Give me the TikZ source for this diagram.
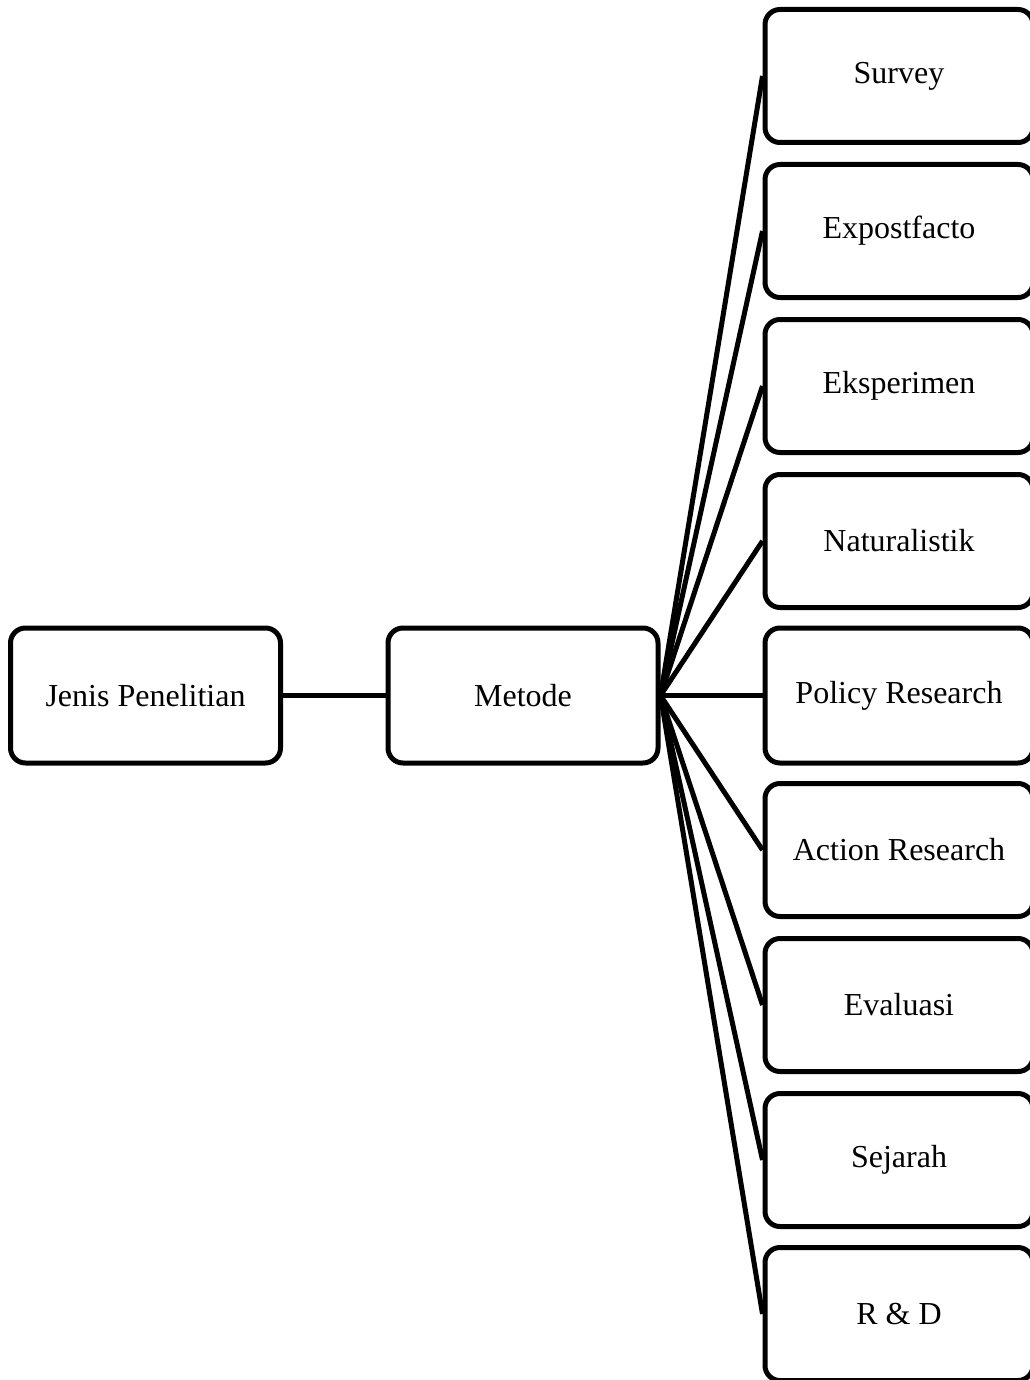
\documentclass[tikz,border=0pt]{standalone}
\usepackage{fontspec}
\setmainfont{Liberation Serif}
\begin{document}
\begin{tikzpicture}[x=1pt,y=-1pt,
  box/.style={draw=black,line width=5pt,rounded corners=15pt,fill=white,
    minimum height=133pt,inner sep=0pt,font=\fontsize{32}{38}\selectfont},
  lbox/.style={box,minimum width=270pt,minimum height=135pt},
  rbox/.style={box,minimum width=268pt},
  conn/.style={line width=5pt}]
\useasboundingbox (0,0) rectangle (1029,1380);
\node[lbox] (jenis) at (145.5,695.5) {Jenis Penelitian};
\node[lbox] (metode) at (523,695.5) {Metode};
\node[rbox] (s1) at (899,76) {Survey};
\node[rbox] (s2) at (899,231) {Expostfacto};
\node[rbox] (s3) at (899,386) {Eksperimen};
\node[rbox] (s4) at (899,541) {Naturalistik};
\node[rbox,minimum height=135pt] (s5) at (899,695.5) {Policy Research};
\node[rbox] (s6) at (899,850) {Action Research};
\node[rbox] (s7) at (899,1005) {Evaluasi};
\node[rbox] (s8) at (899,1160) {Sejarah};
\node[rbox] (s9) at (899,1314) {R \& D};
\draw[conn] (jenis.east) -- (metode.west);
\foreach \i in {1,...,9} {
  \draw[conn] (metode.east) -- (s\i.west);
}
\end{tikzpicture}
\end{document}
